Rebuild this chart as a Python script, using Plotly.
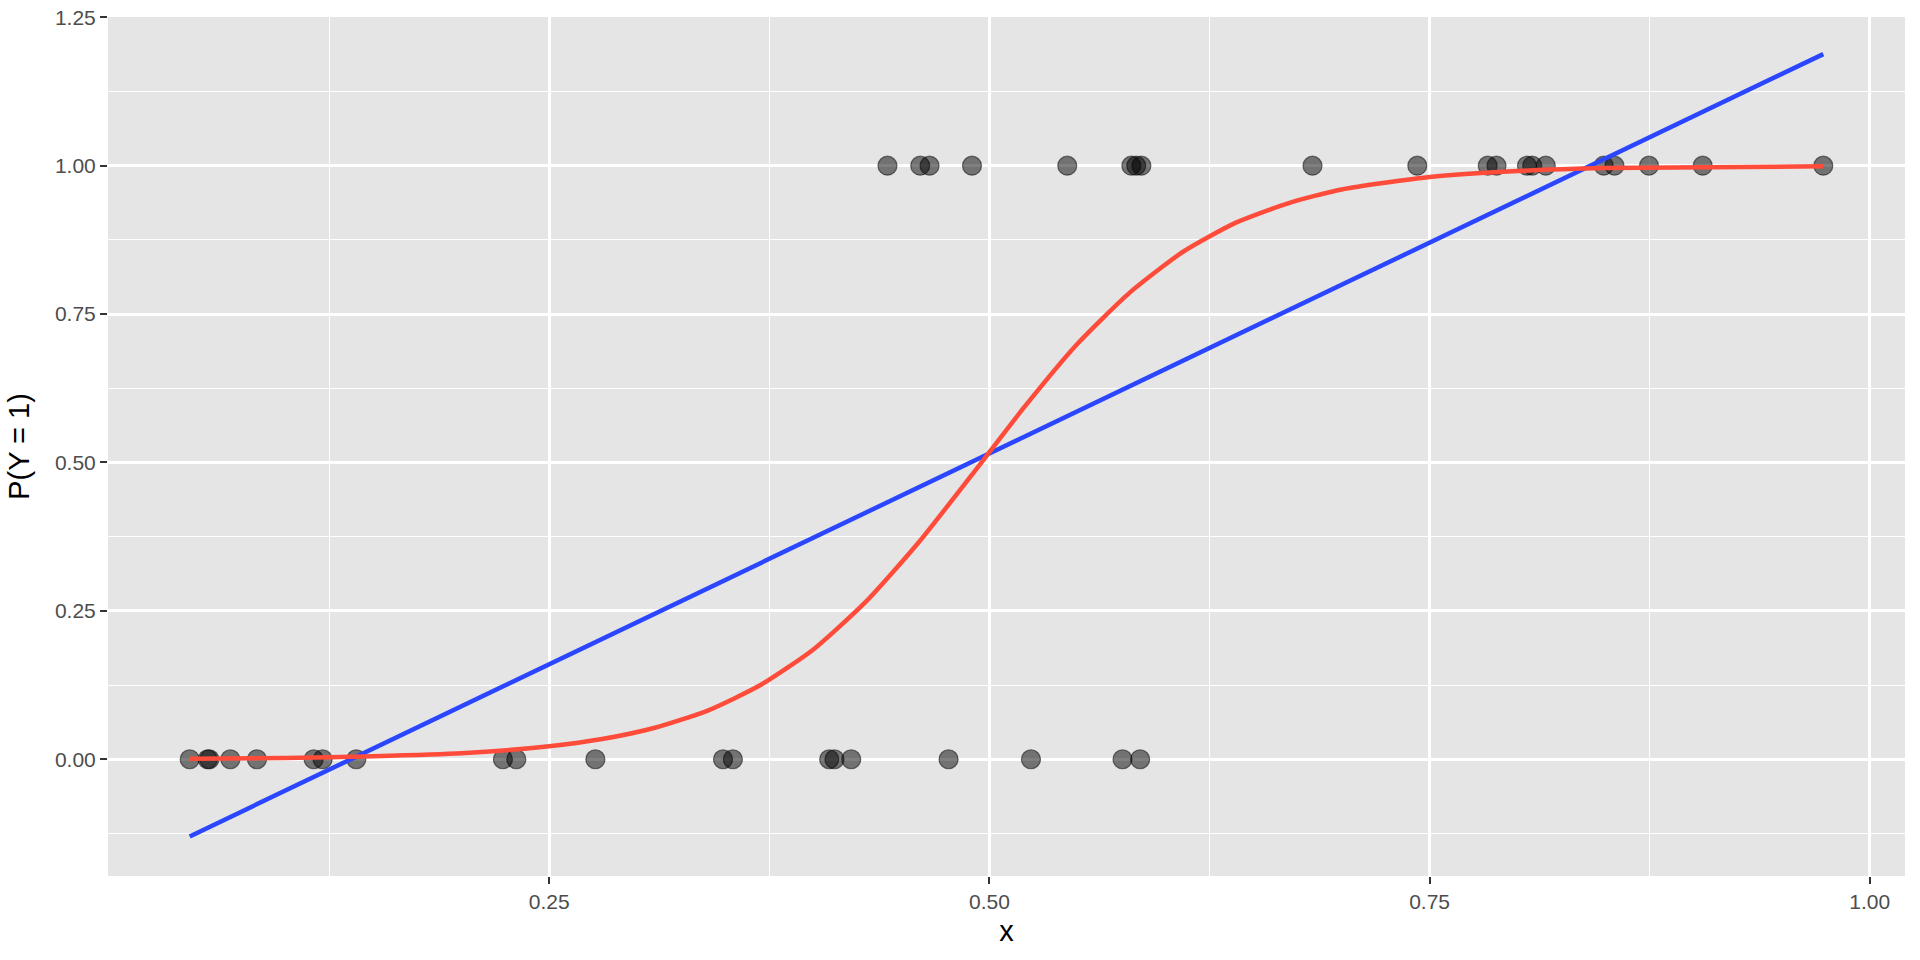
import plotly.graph_objects as go

# Observed outcomes
x_y0 = [0.0458, 0.0560, 0.0570, 0.0689, 0.0840, 0.1162, 0.1213, 0.1404, 0.2237, 0.2313,
        0.2762, 0.3487, 0.3543, 0.4090, 0.4120, 0.4215, 0.4768, 0.5236, 0.5756, 0.5856]
x_y1 = [0.4421, 0.4607, 0.4660, 0.4901, 0.5442, 0.5806, 0.5834, 0.5863, 0.6835, 0.7430,
        0.7830, 0.7880, 0.8053, 0.8083, 0.8160, 0.8489, 0.8550, 0.8746, 0.9051, 0.9736]

# Linear fit (blue) end points
lin_x = [0.0458, 0.9736]
lin_y = [-0.130, 1.188]

# Logistic fit (red)
log_x = [0.0458, 0.10, 0.15, 0.20, 0.25, 0.28, 0.31, 0.34, 0.37, 0.40, 0.43, 0.46,
         0.49, 0.52, 0.55, 0.58, 0.61, 0.64, 0.67, 0.70, 0.75, 0.80, 0.85, 0.9736]
log_y = [0.001, 0.002, 0.005, 0.010, 0.022, 0.034, 0.053, 0.082, 0.125, 0.185, 0.266, 0.366,
         0.479, 0.594, 0.700, 0.787, 0.855, 0.904, 0.937, 0.960, 0.981, 0.991, 0.996, 0.999]

x_ticks = [0.25, 0.50, 0.75, 1.00]
y_ticks = [0.00, 0.25, 0.50, 0.75, 1.00, 1.25]

fig = go.Figure()
fig.add_trace(go.Scatter(
    x=x_y0 + x_y1, y=[0] * len(x_y0) + [1] * len(x_y1), mode="markers",
    marker=dict(size=19, color="rgba(0,0,0,0.5)",
                line=dict(color="rgba(0,0,0,0.5)", width=1.2)),
    showlegend=False, hoverinfo="skip"))
fig.add_trace(go.Scatter(x=lin_x, y=lin_y, mode="lines",
                         line=dict(color="#2B46FF", width=4.5), showlegend=False))
fig.add_trace(go.Scatter(x=log_x, y=log_y, mode="lines",
                         line=dict(color="#FF4B3A", width=4.5, shape="spline", smoothing=0.6),
                         showlegend=False))

font_family = "Liberation Sans, Arial, sans-serif"
fig.update_layout(
    width=1920, height=960,
    template="none",
    paper_bgcolor="white", plot_bgcolor="#E5E5E5",
    margin=dict(l=108, r=15, t=17, b=84),
    font=dict(family=font_family, color="#000000"),
)
fig.update_xaxes(
    range=[-0.0006, 1.0200], tickvals=x_ticks, ticktext=[f"{v:.2f}" for v in x_ticks],
    showgrid=True, gridcolor="white", gridwidth=2.5, zeroline=False, showline=False,
    ticks="outside", ticklen=7, tickwidth=2, tickcolor="#333333",
    tickfont=dict(size=21, color="#4D4D4D", family=font_family),
    minor=dict(tickvals=[0.125, 0.375, 0.625, 0.875], showgrid=True,
               gridcolor="white", gridwidth=1.3, ticks=""),
    title=dict(text="x", font=dict(size=29, color="black"), standoff=8),
    automargin=False,
)
fig.update_yaxes(
    range=[-0.1967, 1.2505], tickvals=y_ticks, ticktext=[f"{v:.2f}" for v in y_ticks],
    showgrid=True, gridcolor="white", gridwidth=2.5, zeroline=False, showline=False,
    ticks="outside", ticklen=7, tickwidth=2, tickcolor="#333333",
    tickfont=dict(size=21, color="#4D4D4D", family=font_family),
    minor=dict(tickvals=[-0.125, 0.125, 0.375, 0.625, 0.875, 1.125], showgrid=True,
               gridcolor="white", gridwidth=1.3, ticks=""),
    title=dict(text="P(Y = 1)", font=dict(size=29, color="black"), standoff=16),
    automargin=False,
)
fig.write_html("out.html", config={"displayModeBar": False},
               post_script="document.body.style.margin='0px';")
